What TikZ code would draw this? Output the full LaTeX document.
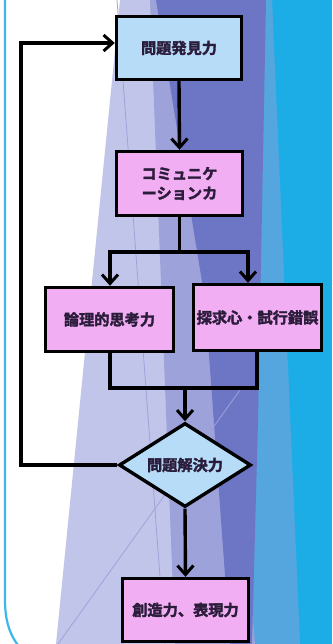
\documentclass[tikz,border=0pt]{standalone}
\usepackage{fontspec}
\newfontfamily\jp{Noto Sans CJK JP Bold}[FakeBold=2.2]
\usetikzlibrary{arrows.meta,shapes.geometric}
\definecolor{bgblue}{HTML}{1DADE6}
\definecolor{midblue}{HTML}{55A6DE}
\definecolor{purp}{HTML}{6D75C5}
\definecolor{midlav}{HTML}{9DA3DA}
\definecolor{lav}{HTML}{C2C5EA}
\definecolor{bordc}{HTML}{3DB6EA}
\definecolor{boxblue}{HTML}{B6DCF8}
\definecolor{boxpink}{HTML}{F2AEF2}
\definecolor{textc}{HTML}{2A1C3A}
\begin{document}
\begin{tikzpicture}[x=1pt,y=-1pt,
  box/.style={draw=black,line width=3.4pt,minimum width=125pt,minimum height=63pt,inner sep=0pt,
    font=\jp\fontsize{15.2}{19.5}\selectfont,text=textc,align=center},
  arr/.style={line width=3.4pt,-{Straight Barb[length=9pt,width=16pt,line width=3pt]}},
  ln/.style={line width=3.4pt,line cap=rect}]
\useasboundingbox (0,0) rectangle (332,644);
% background
\fill[bgblue] (0,0) rectangle (332,644);
\fill[midblue] (262,0) -- (272,0) -- (300,644) -- (245,644) -- cycle;
\fill[white] (0,0) rectangle (140,644);
\fill[lav] (120,0) -- (160,0) -- (250,644) -- (56,644) -- cycle;
\fill[midlav] (150,0) -- (200,0) -- (255,644) -- (175,644) -- cycle;
\fill[purp] (156,0) -- (266,0) -- (258,420) -- (252,644) -- (230,644) -- (205,300) -- cycle;
\draw[midlav,line width=0.8pt] (117,0) -- (165,644);
\draw[midlav,line width=0.8pt] (58,644) -- (240,390);
\draw[bordc,line width=2.2pt] (5,-5) -- (5,600) .. controls (5,625) and (12,640) .. (24,652);
% nodes
\node[box,fill=boxblue] (b1) at (179,48) {問題発見力};
\node[box,fill=boxpink,minimum width=126pt,minimum height=64pt] (b2) at (179.5,183.5) {コミュニケ\\ーションカ};
\node[box,fill=boxpink,minimum width=128pt,minimum height=64pt] (b3) at (109.5,319.5) {論理的思考力};
\node[box,fill=boxpink,minimum width=128pt,minimum height=66pt] (b4) at (257.5,317.5) {探求心・試行錯誤};
\node[draw=black,line width=3.4pt,fill=boxblue,shape=diamond,aspect=1.6,minimum width=132pt,minimum height=84pt,inner sep=0pt,
  font=\jp\fontsize{15.2}{19.5}\selectfont,text=textc] (dia) at (185,465) {問題解決力};
\node[box,fill=boxpink,minimum width=126pt] (b5) at (185.5,610) {創造力、表現力};
% connectors
\coordinate (sL) at (110,252);
\coordinate (sR) at (248,252);
\coordinate (mL) at (110,388);
\coordinate (mR) at (257,388);
\coordinate (mM) at (185,388);
\coordinate (lp) at (21,465);
\draw[arr] (b1.south) -- (b2.north);
\draw[ln] (b2.south) -- (b2.south |- sL);
\draw[ln] (sL) -- (sR);
\draw[arr] (sL) -- (sL |- b3.north);
\draw[arr] (sR) -- (sR |- b4.north);
\draw[ln] (b3.south -| mL) -- (mL) -- (mR) -- (b4.south -| mR);
\draw[arr] (mM) -- (dia.north);
\draw[arr,line join=miter] (dia.west) -- (lp) |- ([yshift=5pt]b1.west);
\draw[arr] (dia.south) -- (b5.north);
\end{tikzpicture}
\end{document}
